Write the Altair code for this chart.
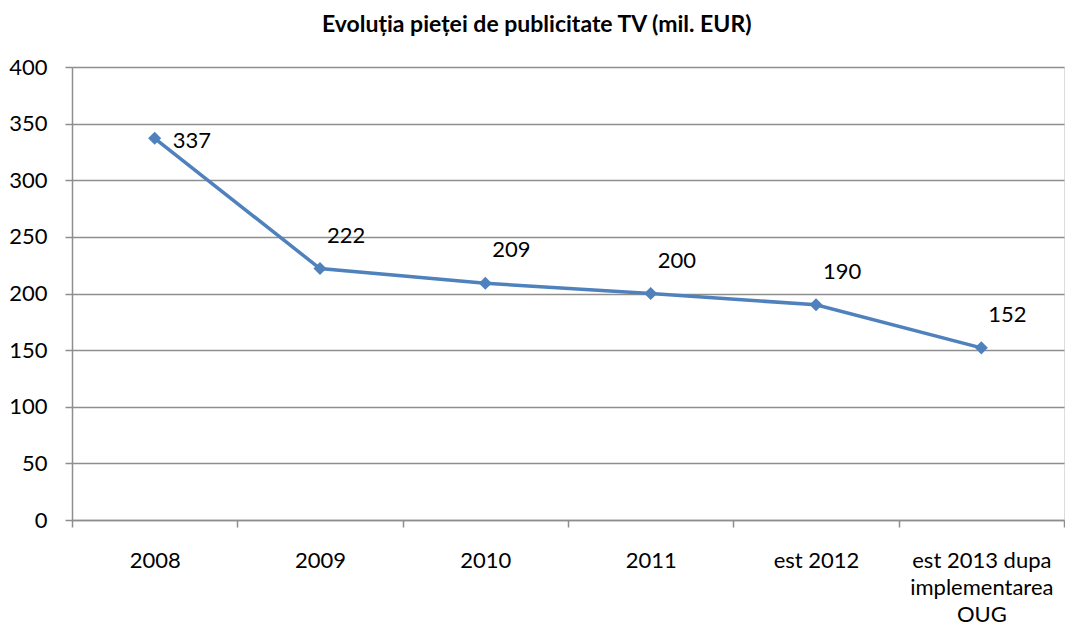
import altair as alt
import pandas as pd

categories = ["2008", "2009", "2010", "2011", "est 2012", "est 2013 dupa\nimplementarea\nOUG"]
values = [337, 222, 209, 200, 190, 152]
y_ticks = [0, 50, 100, 150, 200, 250, 300, 350, 400]
title_text = "Evoluția pieței de publicitate TV (mil. EUR)"

df = pd.DataFrame({"cat": categories, "val": values})
df["idx"] = range(len(df))

FONT = "Lato"
BLUE = "#4F81BD"
GRID = "#8e8e8e"
FS = 22

x_enc = alt.X(
    "cat:N",
    sort=categories,
    title=None,
    scale=alt.Scale(paddingInner=0, paddingOuter=0),
    axis=alt.Axis(
        labelAngle=0,
        labelExpr="split(datum.label, '\\n')",
        labelFont=FONT,
        labelFontSize=FS,
        labelColor="#000000",
        labelLineHeight=27,
        labelPadding=23,
        tickBand="extent",
        tickSize=7,
        tickColor=GRID,
        tickWidth=1.5,
        domainColor=GRID,
        domainWidth=1.5,
        grid=False,
        labelLimit=300,
    ),
)
y_enc = alt.Y(
    "val:Q",
    title=None,
    scale=alt.Scale(domain=[0, 400], nice=False),
    axis=alt.Axis(
        values=y_ticks,
        labelFont=FONT,
        labelFontSize=FS,
        labelColor="#000000",
        labelPadding=18,
        tickSize=7,
        tickColor=GRID,
        tickWidth=1.5,
        domainColor=GRID,
        domainWidth=1.5,
        gridColor=GRID,
        gridWidth=1.5,
    ),
)

base = alt.Chart(df).encode(x=x_enc, y=y_enc)

line = base.mark_line(color=BLUE, strokeWidth=3.5)
points = base.mark_point(shape="diamond", filled=True, size=170, color=BLUE, opacity=1)

first_label = base.transform_filter("datum.idx == 0").mark_text(
    align="left", baseline="middle", dx=18, dy=3, font=FONT, fontSize=FS, color="#000000"
).encode(text="val:Q")
other_labels = base.transform_filter("datum.idx > 0").mark_text(
    align="left", baseline="middle", dx=7, dy=-33, font=FONT, fontSize=FS, color="#000000"
).encode(text="val:Q")

chart = (
    alt.layer(line, points, first_label, other_labels)
    .properties(
        width=992,
        height=453,
        padding={"left": 0, "top": 6, "right": 0, "bottom": 0},
        title=alt.TitleParams(
            text=title_text,
            font=FONT,
            fontSize=23,
            fontWeight="bold",
            color="#000000",
            anchor="middle",
            frame="bounds",
            offset=19,
        ),
    )
    .configure_view(stroke=None)
    .configure(background="#ffffff")
)

chart.save("out.html", embed_options={"renderer": "svg", "actions": False})
